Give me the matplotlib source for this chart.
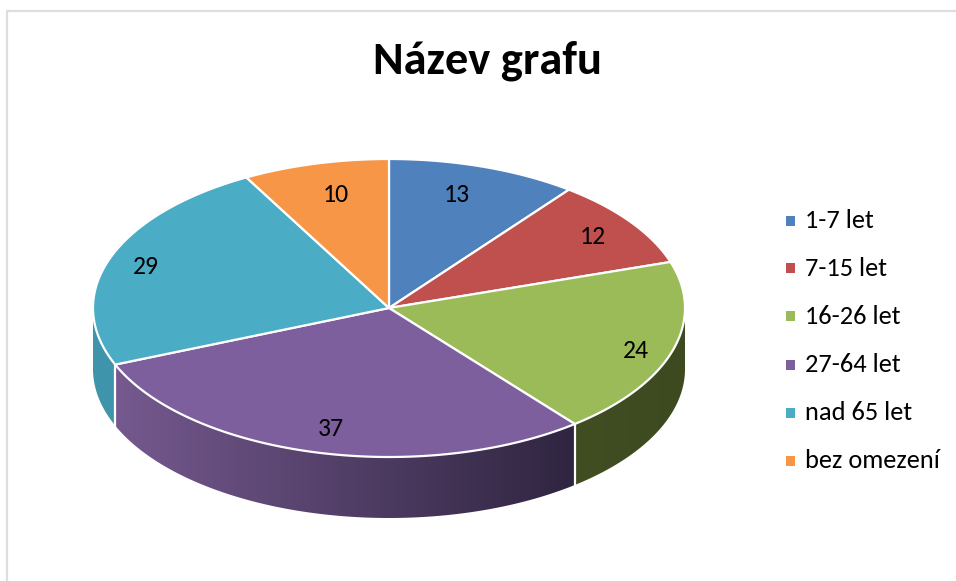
import numpy as np
import matplotlib
matplotlib.use("Agg")
import matplotlib.pyplot as plt
from matplotlib import font_manager
from matplotlib.colors import LinearSegmentedColormap
from matplotlib.patches import Polygon, Rectangle

categories = ["1-7 let", "7-15 let", "16-26 let", "27-64 let", "nad 65 let", "bez omezení"]
values = [13, 12, 24, 37, 29, 10]
colors = ["#4F81BD", "#C0504D", "#9BBB59", "#7D5F9E", "#4BACC6", "#F79646"]
# side-wall shade at the left and right end of each visible wall
side_left = {2: "#414E22", 3: "#75598F", 4: "#3F95AB"}
side_right = {2: "#3D4A20", 3: "#2F2540", 4: "#3F95AB"}
label_pos = [(457, 195), (593, 236), (636, 350), (331, 429), (146, 267), (336, 194)]
legend_y = [221, 268, 316, 365, 413, 461]

W, H = 956, 581
CX, CY, RX, RY, DEPTH = 389, 308, 296, 149, 61

names = {f.name for f in font_manager.fontManager.ttflist}
plt.rcParams["font.family"] = ["Carlito" if "Carlito" in names else "Lato", "DejaVu Sans"]

fig = plt.figure(figsize=(W / 100, H / 100), dpi=100)
ax = fig.add_axes([0, 0, 1, 1])

# chart frame
ax.plot([7.5, 7.5, W], [H, 10.5, 10.5], color="#DEDEDE", lw=1.6, solid_joinstyle="miter", zorder=1)


def pt(t):
    return CX + RX * np.sin(t), CY - RY * np.cos(t)


edges = np.deg2rad(np.concatenate([[0], np.cumsum(values)]) / sum(values) * 360)

# side walls: a horizontal gradient clipped to the rim band of each slice
for i in range(len(values)):
    a, b = max(edges[i], np.pi / 2), min(edges[i + 1], 3 * np.pi / 2)
    if a >= b:
        continue
    ts = np.linspace(a, b, 200)
    xs, ys = pt(ts)
    band = np.vstack([np.column_stack([xs, ys]), np.column_stack([xs[::-1], ys[::-1] + DEPTH])])
    cmap = LinearSegmentedColormap.from_list("wall", [side_left[i], side_right[i]])
    img = ax.imshow(np.linspace(0, 1, 256).reshape(1, -1), cmap=cmap, aspect="auto",
                    extent=(xs.min(), xs.max(), ys.max() + DEPTH, ys.min()), zorder=2)
    img.set_clip_path(Polygon(band, closed=True, transform=ax.transData))

ax.set_xlim(0, W)
ax.set_ylim(H, 0)
ax.axis("off")

# white seams on the front wall between slices
for e in edges[1:-1]:
    if np.pi / 2 < e < 3 * np.pi / 2:
        x, y = pt(e)
        ax.plot([x, x], [y, y + DEPTH], color="white", lw=1.6, zorder=3)

# top faces
for i, c in enumerate(colors):
    ts = np.linspace(edges[i], edges[i + 1], 160)
    xs, ys = pt(ts)
    verts = np.vstack([[CX, CY], np.column_stack([xs, ys])])
    ax.add_patch(Polygon(verts, closed=True, fc=c, ec="white", lw=1.6, joinstyle="round", zorder=4))

# value labels
for v, (x, y) in zip(values, label_pos):
    ax.text(x, y, str(v), fontsize=18.5, color="black", ha="center", va="center", zorder=5)

# legend
for name, c, y in zip(categories, colors, legend_y):
    ax.add_patch(Rectangle((786, y - 5), 9.5, 9.5, fc=c, ec="none", zorder=5))
    ax.text(805, y, name, fontsize=19, color="black", ha="left", va="center", zorder=5)

ax.text(488, 61, "Název grafu", fontsize=33.5, fontweight="bold", color="black",
        ha="center", va="center", zorder=5)

fig.savefig("out.png", dpi=100)
